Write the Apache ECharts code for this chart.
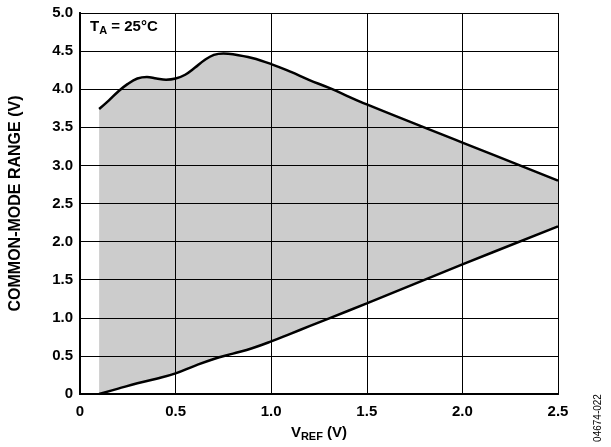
<!DOCTYPE html>
<html><head><meta charset="utf-8">
<script src="https://cdn.jsdelivr.net/npm/echarts@6/dist/echarts.min.js"></script>
<style>html,body{margin:0;padding:0;background:#fff}#c{width:611px;height:447px}</style>
</head><body><div id="c"></div>
<script>
var upperX = [0.1,0.15,0.2,0.25,0.3,0.35,0.4,0.45,0.5,0.55,0.6,0.65,0.7,0.75,0.8,0.9,1.0,1.1,1.2,1.3,1.5,2.0,2.5];
var upperY = [3.74,3.85,3.97,4.07,4.14,4.16,4.14,4.125,4.14,4.19,4.28,4.38,4.45,4.47,4.46,4.41,4.33,4.23,4.12,4.02,3.80,3.30,2.80];
var lowerX = [0.1,0.2,0.3,0.4,0.5,0.6,0.7,0.8,0.9,1.0,1.1,1.2,1.3,1.5,2.0,2.5];
var lowerY = [0.0,0.07,0.14,0.2,0.27,0.37,0.46,0.53,0.6,0.69,0.79,0.89,0.99,1.19,1.70,2.20];
var xTicks = ['0','0.5','1.0','1.5','2.0','2.5'];
var yTicks = ['0','0.5','1.0','1.5','2.0','2.5','3.0','3.5','4.0','4.5','5.0'];

function pairs(xs, ys){ return xs.map(function(x,i){return [x, ys[i]];}); }
var FONT = 'Liberation Sans';
var chart = echarts.init(document.getElementById('c'));
chart.setOption({
  animation:false,
  grid:{left:79, right:53, top:13, bottom:51},
  xAxis:[{
    type:'value', min:0, max:2.5, interval:0.5, z:5,
    axisLine:{show:true, onZero:false, lineStyle:{color:'#000', width:2}},
    axisTick:{show:false},
    splitLine:{show:true, lineStyle:{color:'#000', width:1}},
    axisLabel:{color:'#000', fontFamily:FONT, fontWeight:'bold', fontSize:15, margin:10,
      formatter:function(v){ return xTicks[Math.round(v/0.5)]; }},
    name:'{n|V}{s|REF}{n| (V)}', nameLocation:'middle', nameGap:30,
    nameTextStyle:{rich:{n:{fontFamily:FONT, fontWeight:'bold', fontSize:15, color:'#000'},
      s:{fontFamily:FONT, fontWeight:'bold', fontSize:11, color:'#000', verticalAlign:'bottom', padding:[7,0,0,0]}}}
  },{
    type:'value', position:'top', min:0, max:2.5, z:5,
    axisLine:{show:true, lineStyle:{color:'#000', width:2}},
    axisTick:{show:false}, axisLabel:{show:false}, splitLine:{show:false}
  }],
  yAxis:[{
    type:'value', min:0, max:5, interval:0.5, z:5,
    axisLine:{show:true, onZero:false, lineStyle:{color:'#000', width:2}},
    axisTick:{show:false},
    splitLine:{show:true, lineStyle:{color:'#000', width:1}},
    axisLabel:{color:'#000', fontFamily:FONT, fontWeight:'bold', fontSize:15, margin:7,
      formatter:function(v){ return yTicks[Math.round(v/0.5)]; }},
    name:'COMMON-MODE RANGE (V)', nameLocation:'middle', nameGap:56,
    nameTextStyle:{fontFamily:FONT, fontWeight:'bold', fontSize:16, color:'#000'}
  },{
    type:'value', position:'right', min:0, max:5, z:5,
    axisLine:{show:true, lineStyle:{color:'#000', width:2}},
    axisTick:{show:false}, axisLabel:{show:false}, splitLine:{show:false}
  }],
  series:[{
    type:'line', data:pairs(upperX, upperY), smooth:0.4, showSymbol:false, z:2,
    lineStyle:{color:'#000', width:2.5},
    areaStyle:{color:'#cccccc', opacity:1, origin:'start'}
  },{
    type:'line', data:pairs(lowerX, lowerY), smooth:0.4, showSymbol:false, z:3,
    lineStyle:{color:'#000', width:2.5},
    areaStyle:{color:'#ffffff', opacity:1, origin:'start'}
  }],
  graphic:[{
    type:'text', left:90, top:19, z:10,
    style:{text:'{n|T}{s|A}{n| = 25°C}', rich:{
      n:{fontFamily:FONT, fontWeight:'bold', fontSize:15, fill:'#000'},
      s:{fontFamily:FONT, fontWeight:'bold', fontSize:11, fill:'#000', verticalAlign:'bottom', padding:[8,0,0,0]}}}
  },{
    type:'text', x:598, y:418, rotation:Math.PI/2, z:10,
    style:{text:'04674-022', fontFamily:FONT, fontSize:10, fill:'#000', align:'center', verticalAlign:'middle'}
  }]
});
</script></body></html>
